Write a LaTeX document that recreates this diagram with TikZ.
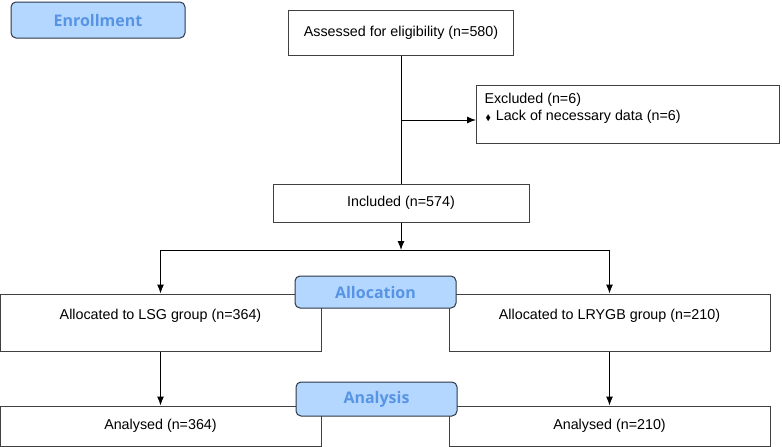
\documentclass[tikz,border=0pt]{standalone}
\usepackage{amssymb}
\usepackage{fontspec}
\setmainfont{Liberation Sans}
\newfontfamily\lblfont{Open Sans}
\usetikzlibrary{arrows.meta}
\definecolor{lblfill}{RGB}{180,215,255}
\definecolor{lbltext}{RGB}{88,148,228}
\definecolor{lbldraw}{RGB}{45,55,70}
\begin{document}
\begin{tikzpicture}[x=1pt,y=-1pt,%
    every node/.style={font=\fontsize{14.3}{17}\selectfont},
    box/.style={draw=black!75,line width=1pt,fill=white,inner sep=0pt},%
    upbox/.style={box,text height=11pt,text depth=18pt},%
    lbl/.style={draw=lbldraw,line width=1pt,fill=lblfill,rounded
      corners=5pt,text=lbltext,font=\lblfont\bfseries\fontsize{16}{19}\selectfont,
      minimum width=161pt,minimum height=32pt,inner sep=0pt},%
    arr/.style={line width=1pt,-{Latex[length=9pt,width=7pt]}}]
  \useasboundingbox (0,0) rectangle (782,447);
  % enrollment
  \node[lbl,minimum width=174pt,minimum height=36pt] (enr) at (98,20) {Enrollment};
  \node[box,minimum width=225pt,minimum height=45pt] (ass) at (401,32.5)
  {Assessed for eligibility (n=580)};
  \node[box,inner sep=8pt,anchor=north west] (exc) at (476,85)
  {\parbox[t][42pt][t]{287pt}{Excluded (n=6)\\
      \hspace*{1pt}{\fontsize{8}{8}\selectfont$\blacklozenge$}\hspace{5pt}Lack of necessary data (n=6)}};
  \node[box,minimum width=256pt,minimum height=38pt] (inc) at (401,203)
  {Included (n=574)};
  \coordinate (ex) at (401,120); \coordinate (br) at (401,250);
  % allocation
  \node[upbox,minimum width=321pt,minimum height=57pt] (lsg) at (160.5,322.5)
  {Allocated to LSG group (n=364)};
  \node[upbox,minimum width=321pt,minimum height=57pt] (lry) at (609.5,322.5)
  {Allocated to LRYGB group (n=210)};
  \node[lbl] (alo) at (375.5,292) {Allocation};
  % analysis
  \node[box,minimum width=321pt,minimum height=40pt] (an1) at (160.5,426)
  {Analysed (n=364)};
  \node[box,minimum width=321pt,minimum height=40pt] (an2) at (609.5,426)
  {Analysed (n=210)};
  \node[lbl,minimum height=34pt] (ana) at (376.5,399) {Analysis};
  % connectors
  \draw[line width=1pt] (ass.south) -- (inc.north);
  \draw[arr] (ex) -- (ex -| exc.west);
  \draw[arr] (inc.south) -- (br);
  \draw[arr] (br) -| (lsg.north);
  \draw[arr] (br) -| (lry.north);
  \draw[arr] (lsg) -- (an1);
  \draw[arr] (lry) -- (an2);
\end{tikzpicture}
\end{document}
